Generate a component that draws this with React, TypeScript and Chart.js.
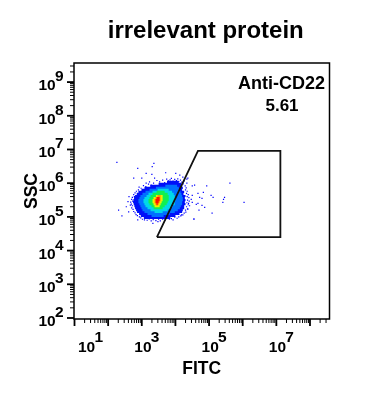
import React, { useEffect, useRef } from "react";
import { Chart, registerables } from "chart.js";

Chart.register(...registerables);

const chartTitle = "irrelevant protein";
const xAxisTitle = "FITC";
const yAxisTitle = "SSC";
const gateName = "Anti-CD22";
const gateValue = "5.61";
const xTickExponents = [1, 3, 5, 7];
const yTickExponents = [2, 3, 4, 5, 6, 7, 8, 9];
const xDecades = [1, 2, 3, 4, 5, 6, 7, 8];
const yDecades = [1, 2, 3, 4, 5, 6, 7, 8, 9];
const minorMultipliers = [2, 3, 4, 5, 6, 7, 8, 9];

// All coordinates below are log10(value): [x, y]
const gatePolygon = [[3.45, 4.4], [4.67, 6.96], [7.12, 6.96], [7.12, 4.4], [3.45, 4.4]];

const speckle = [
  [2.26, 6.62], [2.88, 6.44], [3.36, 6.59], [3.31, 6.49], [3.13, 6.29], [3.3, 6.26], [2.76, 6.15], [3.0, 6.15],
  [3.71, 6.31], [4.01, 6.29], [4.13, 6.24], [4.34, 6.12], [4.22, 6.18], [2.31, 5.2], [2.41, 5.03], [2.61, 5.15],
  [2.54, 5.3], [2.59, 5.45], [2.62, 5.6], [3.33, 4.81], [2.88, 4.91], [3.08, 4.91], [3.48, 4.86], [3.58, 4.96],
  [3.98, 4.99], [4.55, 4.94], [3.23, 6.04], [3.38, 6.15], [3.53, 6.04], [3.13, 6.0], [4.93, 5.92], [5.62, 6.0],
  [6.04, 5.43], [5.46, 5.58], [5.43, 5.52], [5.41, 5.43], [5.12, 5.58], [5.06, 5.64], [5.09, 5.11], [4.55, 4.93],
  [4.87, 5.28], [4.7, 5.2], [4.83, 5.73], [4.67, 5.7], [4.5, 5.92], [4.57, 5.94], [4.79, 5.55], [4.72, 5.58],
  [4.79, 5.34], [4.67, 5.4], [4.62, 5.37], [4.5, 5.43], [4.47, 5.52], [4.5, 5.64], [4.37, 6.15], [4.34, 6.0],
  [4.37, 5.23], [3.93, 4.91], [4.18, 5.06], [4.39, 5.4],
  [3.45, 6.08], [3.55, 5.99], [3.62, 6.09], [3.68, 6.02], [3.74, 6.12], [3.79, 6.07], [3.84, 6.1], [3.88, 6.14],
  [3.93, 6.06], [3.98, 6.11], [4.03, 6.08], [4.07, 6.13], [4.1, 6.05], [4.15, 6.09], [4.19, 6.03], [4.23, 5.98],
  [4.26, 6.07], [3.35, 6.0], [3.28, 5.94], [3.2, 5.97], [3.12, 5.9], [3.05, 5.93], [2.98, 5.85], [2.92, 5.88],
  [2.9, 5.8], [2.84, 5.76], [2.8, 5.71],
  [2.76, 5.66], [2.78, 5.6], [2.72, 5.58], [2.7, 5.52], [2.73, 5.47], [2.67, 5.44], [2.69, 5.38], [2.66, 5.35],
  [2.72, 5.33], [2.7, 5.27], [2.74, 5.22], [2.76, 5.16], [2.8, 5.12], [2.83, 5.07], [2.87, 5.04], [2.93, 5.0],
  [2.97, 4.97],
  [4.29, 5.92], [4.32, 5.86], [4.3, 5.8], [4.35, 5.76], [4.33, 5.7], [4.38, 5.66], [4.35, 5.6], [4.4, 5.57],
  [4.36, 5.5], [4.41, 5.47], [4.34, 5.42], [4.38, 5.36], [4.42, 5.33], [4.33, 5.3], [4.36, 5.24], [4.3, 5.2],
  [4.31, 5.14], [4.26, 5.11], [4.22, 5.06], [4.16, 5.03], [4.1, 5.0], [4.05, 4.96],
  [3.02, 4.93], [3.1, 4.96], [3.16, 4.9], [3.22, 4.94], [3.28, 4.88], [3.34, 4.92], [3.42, 4.89], [3.5, 4.93],
  [3.55, 4.88], [3.62, 4.93], [3.7, 4.91], [3.76, 4.97], [3.82, 4.93], [3.88, 4.95],
];

// Density bands: [y, x from, x to]
const blueRows = [
  [6.04, 3.75, 4.1], [5.98, 3.5, 4.18], [5.92, 3.25, 4.2], [5.86, 3.08, 4.22], [5.8, 2.99, 4.2],
  [5.74, 2.9, 4.26], [5.68, 2.85, 4.24], [5.62, 2.8, 4.3], [5.56, 2.77, 4.28], [5.5, 2.75, 4.3], [5.44, 2.74, 4.28],
  [5.38, 2.76, 4.3], [5.32, 2.78, 4.26], [5.26, 2.8, 4.26], [5.2, 2.83, 4.22], [5.15, 2.86, 4.2], [5.09, 2.92, 4.12],
  [5.03, 2.97, 4.0], [4.97, 3.06, 3.85],
];
const azureRows = [
  [5.92, 3.7, 4.05], [5.86, 3.42, 4.1], [5.8, 3.23, 4.13], [5.74, 3.11, 4.15], [5.68, 3.02, 4.18], [5.62, 2.96, 4.2],
  [5.56, 2.93, 4.22], [5.5, 2.9, 4.22], [5.44, 2.9, 4.2], [5.38, 2.93, 4.2], [5.32, 2.96, 4.16], [5.26, 2.99, 4.13],
  [5.2, 3.02, 4.07], [5.15, 3.08, 3.98], [5.09, 3.17, 3.83], [5.03, 3.29, 3.65],
];
const cyanRows = [
  [5.8, 3.47, 3.8], [5.74, 3.32, 3.9], [5.68, 3.2, 3.95], [5.62, 3.14, 3.98], [5.56, 3.08, 4.0], [5.5, 3.05, 4.0],
  [5.44, 3.05, 3.98], [5.38, 3.08, 3.98], [5.32, 3.11, 3.92], [5.26, 3.17, 3.86], [5.2, 3.26, 3.77], [5.15, 3.38, 3.62],
];
const greenRows = [
  [5.74, 3.44, 3.68], [5.68, 3.32, 3.77], [5.62, 3.26, 3.8], [5.56, 3.23, 3.8], [5.5, 3.2, 3.8], [5.44, 3.2, 3.77],
  [5.38, 3.23, 3.74], [5.32, 3.29, 3.68], [5.26, 3.35, 3.62],
];
const yellowRows = [
  [5.62, 3.42, 3.62], [5.56, 3.35, 3.62], [5.5, 3.32, 3.62], [5.44, 3.32, 3.59], [5.38, 3.35, 3.56], [5.32, 3.38, 3.53],
];
const orangeRows = [[5.62, 3.47, 3.56], [5.56, 3.41, 3.56], [5.5, 3.38, 3.56], [5.44, 3.38, 3.53], [5.38, 3.41, 3.5]];
const redRows = [[5.56, 3.44, 3.53], [5.5, 3.41, 3.53], [5.44, 3.41, 3.5], [5.38, 3.44, 3.47]];

const pt = ([x, y]: number[]) => ({ x: 10 ** x, y: 10 ** y });
const rowsToSegments = (rows: number[][]) =>
  rows.flatMap(([y, a, b]) => [pt([a, y]), pt([b, y]), { x: NaN, y: NaN }]);
const band = (rows: number[][], color: string) => ({
  data: rowsToSegments(rows),
  showLine: true,
  borderColor: color,
  borderWidth: 2.2,
  pointRadius: 0,
  spanGaps: false,
  label: "",
});

const FONT = '"Liberation Sans", Arial, sans-serif';

const flowPlugin = {
  id: "flowAxes",
  afterLayout(chart: any) {
    chart.titleBlock.left += 4;
    chart.titleBlock.right += 4;
  },
  afterDraw(chart: any) {
    const { ctx, chartArea: a, scales } = chart;
    const { x, y } = scales;
    ctx.save();
    ctx.strokeStyle = "#000";
    ctx.fillStyle = "#000";

    ctx.lineWidth = 1.5;
    ctx.strokeRect(a.left, a.top, a.right - a.left, a.bottom - a.top);

    const tick = (horizontal: boolean, p: number, len: number, w: number) => {
      ctx.lineWidth = w;
      ctx.beginPath();
      if (horizontal) {
        ctx.moveTo(a.left, p);
        ctx.lineTo(a.left - len, p);
      } else {
        ctx.moveTo(p, a.bottom);
        ctx.lineTo(p, a.bottom + len);
      }
      ctx.stroke();
    };
    xDecades.forEach((d) => {
      const p = x.getPixelForValue(10 ** d);
      if (p <= a.right) tick(false, p, 7, 1.8);
      minorMultipliers.forEach((m) => {
        const q = x.getPixelForValue(m * 10 ** d);
        if (q <= a.right) tick(false, q, 4, 1);
      });
    });
    yDecades.forEach((d) => {
      const p = y.getPixelForValue(10 ** d);
      if (p >= a.top && p <= a.bottom) tick(true, p, 7, 1.8);
      minorMultipliers.forEach((m) => {
        const q = y.getPixelForValue(m * 10 ** d);
        if (q >= a.top && q <= a.bottom) tick(true, q, 4, 1);
      });
    });

    ctx.font = `bold 15.5px ${FONT}`;
    ctx.textBaseline = "alphabetic";
    ctx.textAlign = "left";
    xTickExponents.forEach((e) => {
      const p = x.getPixelForValue(10 ** e);
      const lx = Math.max(p - 7.5, 78);
      ctx.fillText("10", lx, 352);
      ctx.fillText(String(e), lx + 16.5, 342);
    });
    yTickExponents.forEach((e) => {
      const p = y.getPixelForValue(10 ** e);
      ctx.fillText("10", 38.5, p + 8);
      ctx.fillText(String(e), 55, p - 1);
    });

    ctx.textAlign = "center";
    ctx.font = `bold 18px ${FONT}`;
    ctx.fillText(gateName, 281.5, 89);
    ctx.font = `bold 17px ${FONT}`;
    ctx.fillText(gateValue, 282, 111);
    ctx.restore();
  },
};

export default function App() {
  const ref = useRef<HTMLCanvasElement>(null);
  useEffect(() => {
    const chart = new Chart(ref.current as HTMLCanvasElement, {
      type: "scatter",
      data: {
        datasets: [
          {
            label: "gate",
            data: gatePolygon.map(pt),
            showLine: true,
            borderColor: "#111",
            borderWidth: 1.8,
            pointRadius: 0,
            tension: 0,
          },
          band(redRows, "#ff1000"),
          band(orangeRows, "#ff9a00"),
          band(yellowRows, "#eef000"),
          band(greenRows, "#10f050"),
          band(cyanRows, "#00d8e8"),
          band(azureRows, "#0070ff"),
          band(blueRows, "#0010f8"),
          {
            label: "events",
            data: speckle.map(pt),
            pointStyle: "rect",
            pointRadius: 0.85,
            backgroundColor: "#0000ff",
            borderWidth: 0,
          },
        ] as any,
      },
      options: {
        animation: false,
        responsive: false,
        layout: { padding: { left: 22, right: 59.5, top: 17, bottom: 37 } },
        plugins: {
          legend: { display: false },
          tooltip: { enabled: false },
          title: {
            display: true,
            text: chartTitle,
            color: "#000",
            fullSize: false,
            font: { family: FONT, size: 24, weight: "bold" },
            padding: { top: 0, bottom: 17.2 },
          },
        },
        scales: {
          x: {
            type: "logarithmic",
            min: 10 ** 0.985,
            max: 10 ** 8.58,
            ticks: { display: false },
            grid: { display: false },
            border: { display: false },
            title: {
              display: true,
              text: xAxisTitle,
              color: "#000",
              font: { family: FONT, size: 17.5, weight: "bold" },
              padding: 0,
            },
            afterFit(s: any) {
              s.height = 61;
            },
          },
          y: {
            type: "logarithmic",
            min: 10 ** 1.97,
            max: 10 ** 9.566,
            ticks: { display: false },
            grid: { display: false },
            border: { display: false },
            title: {
              display: true,
              text: yAxisTitle,
              color: "#000",
              font: { family: FONT, size: 17.5, weight: "bold" },
              padding: 0,
            },
            afterFit(s: any) {
              s.width = 52;
            },
          },
        },
      } as any,
      plugins: [flowPlugin],
    });
    return () => chart.destroy();
  }, []);
  return (
    <canvas
      ref={ref}
      width={389}
      height={417}
      style={{ position: "absolute", left: 0, top: 0, display: "block" }}
    />
  );
}
